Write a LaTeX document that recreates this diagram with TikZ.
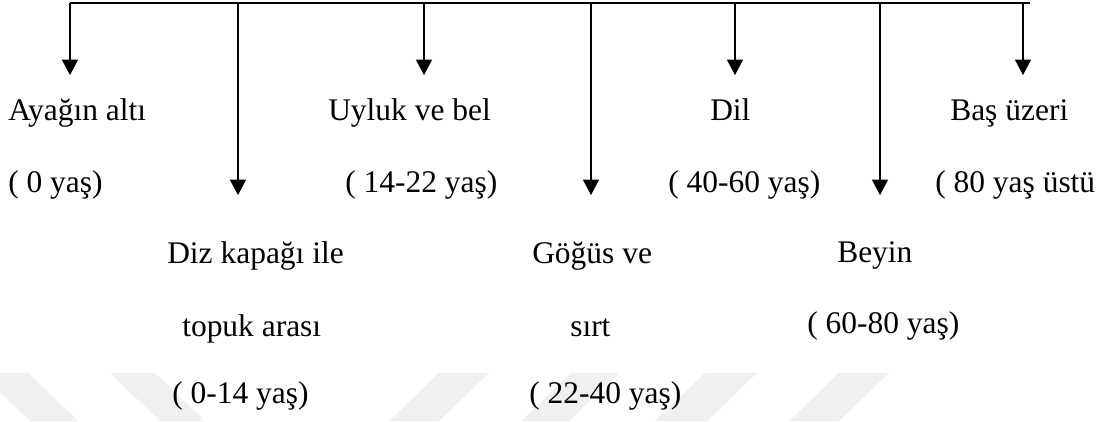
\documentclass[tikz,border=0pt]{standalone}
\usepackage{fontspec}
\setmainfont{Liberation Serif}
\usetikzlibrary{arrows.meta,positioning}
\definecolor{wmgray}{RGB}{240,240,240}
\tikzset{
  organ/.style={anchor=base west, inner sep=0pt, font=\fontsize{23.6}{28}\selectfont},
  down/.style={-{Triangle[width=12pt,length=11.5pt]}, line width=0.9pt},
}
\begin{document}
\begin{tikzpicture}[x=0.75pt,y=-0.75pt]
        \useasboundingbox (0,0) rectangle (1113,421);
        % faint watermark bands
        \fill[wmgray] (-20,373) -- (28,373) -- (78,421) -- (30,421) -- cycle;
        \fill[wmgray] (110,373) -- (155,373) -- (205,421) -- (160,421) -- cycle;
        \fill[wmgray] (439,373) -- (489,373) -- (439,421) -- (389,421) -- cycle;
        \fill[wmgray] (571,373) -- (619,373) -- (569,421) -- (521,421) -- cycle;
        \fill[wmgray] (705,373) -- (757,373) -- (707,421) -- (655,421) -- cycle;
        \fill[wmgray] (839,373) -- (889,373) -- (839,421) -- (789,421) -- cycle;
        % bar and arrows
        \coordinate (bar-w) at (70,3);
        \coordinate (bar-e) at (1030,3);
        \draw[line width=0.9pt] (bar-w) -- (bar-e);
        \foreach \n/\x/\y in {1/70/75,2/238/195,3/424/75,4/591/195,5/735/75,6/880/195,7/1023/75}{
          \coordinate (top-\n) at (\x,3);
          \coordinate (tip-\n) at (\x,\y);
          \draw[down] (top-\n) -- (tip-\n);
        }
        % labels
        \node[organ] (foot)       at (8,120)   {Ayağın altı};
        \node[organ] (foot-age)   at (8,192)   {( 0 yaş)};
        \node[organ] (knee)       at (167,263) {Diz kapağı ile};
        \node[organ] (knee-2)     at (182,336) {topuk arası};
        \node[organ] (knee-age)   at (172,403) {( 0-14 yaş)};
        \node[organ] (thigh)      at (328,120) {Uyluk ve bel};
        \node[organ] (thigh-age)  at (345,192) {( 14-22 yaş)};
        \node[organ] (chest)      at (532,263) {Göğüs ve};
        \node[organ] (chest-2)    at (570,336) {sırt};
        \node[organ] (chest-age)  at (529,403) {( 22-40 yaş)};
        \node[organ] (tongue)     at (710,120) {Dil};
        \node[organ] (tongue-age) at (668,192) {( 40-60 yaş)};
        \node[organ] (brain)      at (837,262) {Beyin};
        \node[organ] (brain-age)  at (807,333) {( 60-80 yaş)};
        \node[organ] (head)       at (950,120) {Baş üzeri};
        \node[organ] (head-age)   at (935,192) {( 80 yaş üstü};
    \end{tikzpicture}
\end{document}
